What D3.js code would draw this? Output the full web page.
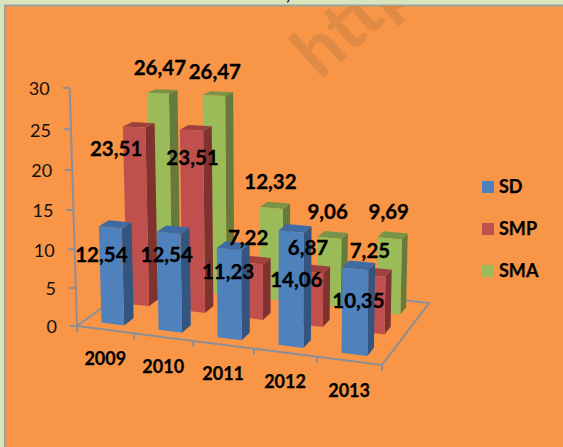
<!DOCTYPE html>
<html><head><meta charset="utf-8">
<script src="https://cdn.jsdelivr.net/npm/d3@7"></script>
<style>html,body{margin:0;padding:0;background:#D8E4BC;overflow:hidden}svg{display:block}text{font-family:Lato,"Open Sans",sans-serif}</style>
</head><body><svg id="c" width="563" height="447"></svg>
<script>
// ---- data ----
const categories = ["2009","2010","2011","2012","2013"];
const seriesNames = ["SD","SMP","SMA"];
const sdValues  = [12.54,12.54,11.23,14.06,10.35];
const smpValues = [23.51,23.51,7.22,6.87,7.25];
const smaValues = [26.47,26.47,12.32,9.06,9.69];
const valueTicks = [0,5,10,15,20,25,30];
// hand-placed label offsets from each bar's top, as in the reference
const sdLabelOffsets  = [[-9,27],[-2,22],[-1,23],[5,48],[3,32]];
const smpLabelOffsets = [[-18,22],[1,28],[-3,-25],[-3,-24],[-3,-25]];
const smaLabelOffsets = [[2,-25],[1,-24],[-1,-26],[-2,-26],[-1,-27]];
const seriesValues = [sdValues,smpValues,smaValues];
const seriesOffsets = [sdLabelOffsets,smpLabelOffsets,smaLabelOffsets];
const frontColors = ["#4F81BD","#C0504D","#9BBB59"];
const topColors   = ["#3F6AA2","#9E403D","#7A9447"];
const sideColors  = ["#34557F","#7F3230","#667B3B"];

// ---- scales ----
const uScale = d3.scaleBand(categories,[0,1]).paddingInner(.6).paddingOuter(.3);
const wScale = d3.scaleBand(seriesNames,[-.01,.99]).paddingInner(.625).paddingOuter(.3125);
const vScale = d3.scaleLinear([0,30],[0,1]);
const legendY = d3.scalePoint(seriesNames,[187,271]);

// floor homography from the four floor corners
const [A,B,C,D] = [[77,326],[382,365],[429,303],[151.4,272.4]];
const sx=A[0]-B[0]+C[0]-D[0], sy=A[1]-B[1]+C[1]-D[1];
const dx1=B[0]-C[0], dx2=D[0]-C[0], dy1=B[1]-C[1], dy2=D[1]-C[1];
const det=dx1*dy2-dx2*dy1;
const g=(sx*dy2-dx2*sy)/det, h=(dx1*sy-sx*dy1)/det;
const a=B[0]-A[0]+g*B[0], b=D[0]-A[0]+h*D[0], d=B[1]-A[1]+g*B[1], e=D[1]-A[1]+h*D[1];
function project(u,w,v){
  const den=1+g*u+h*w;
  const x=(a*u+b*w+A[0])/den, y=(d*u+e*w+A[1])/den;
  const t=vScale(v);
  const hh=30*t*(1+.00175*30*t);
  const k=7.54+.72*u-.8*w;
  return [x+(x-270)*.0012*hh, y-k*hh];
}
const pts=a=>a.map(p=>p.join(",")).join(" ");

const svg=d3.select("#c");
// panel
svg.append("defs").append("clipPath").attr("id","panel").append("rect").attr("x",5).attr("y",6).attr("width",558).attr("height",441);
svg.append("text").attr("x",286).attr("y",0).attr("font-size",18).attr("font-weight",700).attr("fill","#000").text(",");
svg.append("rect").attr("x",4).attr("y",5).attr("width",559).attr("height",442).attr("fill","#F89547");
svg.append("path").attr("d","M5,447V5.5H563").attr("fill","none").attr("stroke","#9CA39A").attr("stroke-width",2);
svg.append("g").attr("clip-path","url(#panel)").append("text").attr("transform","translate(320,81) rotate(-42)")
  .attr("font-size",72).attr("font-weight",700).attr("fill","#E08B45").text("http");

// floor + axes
const axisColor="#8C8F96";
const lines=svg.append("g").attr("stroke",axisColor).attr("stroke-width",2).attr("fill","none");
lines.append("polygon").attr("points",pts([[0,0],[1,0],[1,1],[0,1]].map(c=>project(c[0],c[1],0))));
lines.append("line").attr("x1",project(0,0,0)[0]).attr("y1",project(0,0,0)[1]).attr("x2",project(0,0,30)[0]).attr("y2",project(0,0,30)[1]);
lines.selectAll(".yt").data(valueTicks).join("line").attr("class","yt")
  .attr("x1",v=>project(0,0,v)[0]-7).attr("x2",v=>project(0,0,v)[0])
  .attr("y1",v=>project(0,0,v)[1]).attr("y2",v=>project(0,0,v)[1]);
lines.selectAll(".xt").data(d3.range(categories.length+1)).join("line").attr("class","xt")
  .attr("x1",i=>project(i/categories.length,0,0)[0]).attr("x2",i=>project(i/categories.length,0,0)[0])
  .attr("y1",i=>project(i/categories.length,0,0)[1]).attr("y2",i=>project(i/categories.length,0,0)[1]+6);
svg.selectAll(".yl").data(valueTicks).join("text").attr("class","yl")
  .attr("x",v=>project(0,0,v)[0]-20).attr("y",v=>project(0,0,v)[1]+1).attr("dy",".35em")
  .attr("text-anchor","end").attr("font-size",18).attr("fill","#111").text(v=>v);
const uMid=c=>uScale(c)+uScale.bandwidth()/2;
svg.selectAll(".xl").data(categories).join("text").attr("class","xl")
  .attr("x",c=>project(uMid(c),0,0)[0]).attr("y",c=>project(uMid(c),0,0)[1]+29.5).attr("dy",".35em")
  .attr("text-anchor","middle").attr("font-size",18).attr("font-weight",700).attr("fill","#000")
  .attr("stroke","#000").attr("stroke-width",.25).text(c=>c);

// bars, back row first
const bars=svg.append("g");
for(let s=seriesNames.length-1;s>=0;s--){
  const w0=wScale(seriesNames[s]), w1=w0+wScale.bandwidth();
  categories.forEach((c,i)=>{
    const u0=uScale(c), u1=u0+uScale.bandwidth(), v=seriesValues[s][i];
    const g1=bars.append("g");
    g1.append("polygon").attr("fill",sideColors[s]).attr("points",pts([project(u1,w0,0),project(u1,w1,0),project(u1,w1,v),project(u1,w0,v)]));
    g1.append("polygon").attr("fill",topColors[s]).attr("points",pts([project(u0,w0,v),project(u1,w0,v),project(u1,w1,v),project(u0,w1,v)]));
    g1.append("polygon").attr("fill",frontColors[s]).attr("points",pts([project(u0,w0,0),project(u1,w0,0),project(u1,w0,v),project(u0,w0,v)]));
  });
}
// data labels
const fmt=v=>v.toFixed(2).replace(".",",");
const labels=svg.append("g");
seriesNames.forEach((n,s)=>{
  const w0=wScale(n);
  categories.forEach((c,i)=>{
    const v=seriesValues[s][i], u0=uScale(c), u1=u0+uScale.bandwidth();
    const p=project(u0,w0,v), q=project(u1,w0,v), o=seriesOffsets[s][i];
    labels.append("text").attr("x",(p[0]+q[0])/2+o[0]).attr("y",(p[1]+q[1])/2+o[1]).attr("dy",".35em")
      .attr("text-anchor","middle").attr("font-size",20.5).attr("font-weight",700).attr("fill","#000")
      .attr("stroke","#000").attr("stroke-width",.3).text(fmt(v));
  });
});
// legend
const lg=svg.selectAll(".lg").data(seriesNames).join("g").attr("class","lg");
lg.append("rect").attr("x",482).attr("y",n=>legendY(n)-6).attr("width",12).attr("height",12).attr("fill",(n,i)=>frontColors[i]);
lg.append("text").attr("x",499).attr("y",n=>legendY(n)).attr("dy",".35em").attr("font-size",18).attr("font-weight",700).attr("fill","#000")
  .attr("stroke","#000").attr("stroke-width",.25).text(n=>n);
</script></body></html>
